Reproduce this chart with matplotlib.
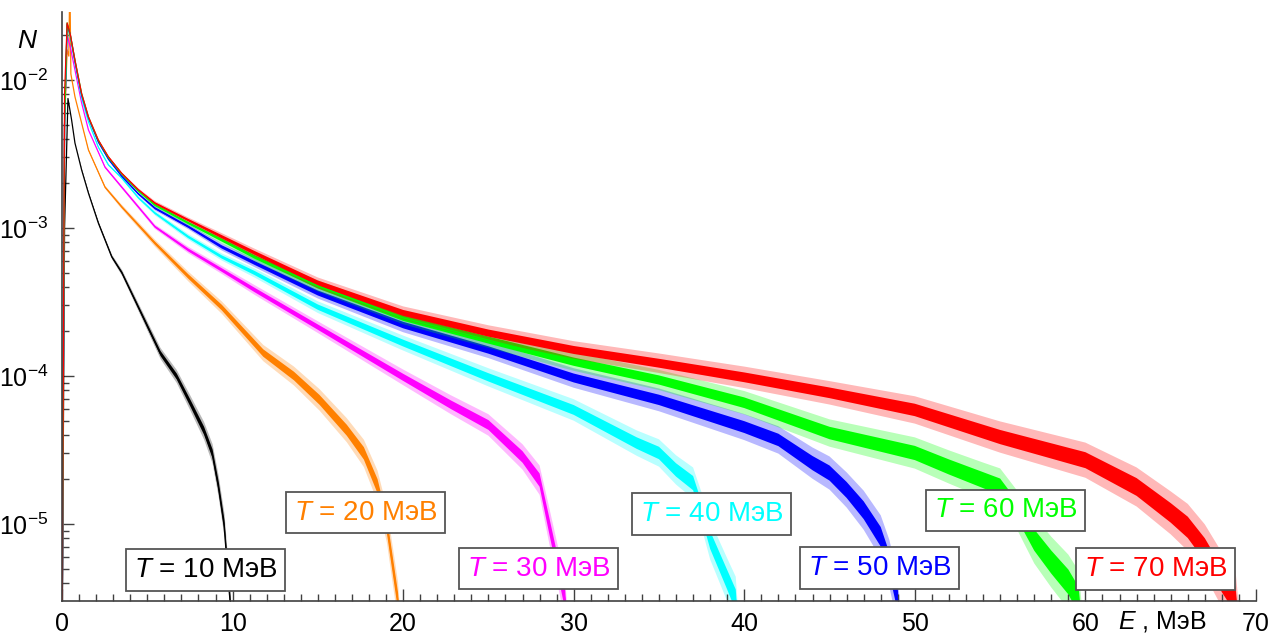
import numpy as np
import matplotlib
matplotlib.use('Agg')
from matplotlib import pyplot as plt
from matplotlib.ticker import LogLocator, MultipleLocator, NullFormatter, FuncFormatter

plt.rcParams['font.family'] = ['Liberation Sans', 'DejaVu Sans']
plt.rcParams['mathtext.fontset'] = 'custom'
plt.rcParams['mathtext.rm'] = 'Liberation Sans'
plt.rcParams['mathtext.it'] = 'Liberation Sans:italic'

# spectra: E (MeV), N, half-width of the noise band (decades)
E_10 = [0.0, 0.15, 0.35, 0.56, 0.76, 1.15, 1.55, 2.13, 2.91, 3.5, 4.48, 5.75, 6.7, 7.5, 8.3, 8.8, 9.16, 9.5, 9.85, 10.0]
N_10 = [1e-6, 1e-3, 7.5e-3, 5.4e-3, 3.75e-3, 2.47e-3, 1.72e-3, 1.08e-3, 6.4e-4, 5.0e-4, 2.9e-4, 1.43e-4, 1.0e-4,
        6.6e-5, 4.3e-5, 3.0e-5, 1.8e-5, 9.8e-6, 3.0e-6, 1e-6]
W_10 = [0, 0, 0, 0, 0, 0.002, 0.003, 0.005, 0.007, 0.009, 0.012, 0.017, 0.02, 0.023, 0.027, 0.03, 0.033, 0.036,
        0.04, 0.04]

E_20 = [0.0, 0.15, 0.3, 0.4, 0.46, 0.52, 0.76, 1.55, 2.52, 3.5, 5.45, 7.41, 9.37, 11.8, 13.6, 15.1, 16.7, 17.7, 18.5,
        19.05, 19.7, 20.0]
N_20 = [1e-6, 5e-3, 1.6e-2, 1.45e-2, 5e-2, 1.1e-2, 7.7e-3, 3.37e-3, 1.89e-3, 1.39e-3, 7.9e-4, 4.7e-4, 2.9e-4,
        1.43e-4, 1.0e-4, 6.9e-5, 4.3e-5, 3.0e-5, 1.8e-5, 9.8e-6, 3.0e-6, 1e-6]
W_20 = [0, 0, 0, 0, 0, 0, 0, 0.003, 0.005, 0.007, 0.011, 0.015, 0.019, 0.025, 0.029, 0.033, 0.037, 0.042, 0.048,
        0.054, 0.06, 0.06]

E_30 = [0.0, 0.15, 0.3, 0.5, 0.76, 1.15, 1.55, 2.52, 3.5, 5.45, 7.41, 9.37, 11.3, 15, 20, 22.8, 25, 27, 28, 28.5,
        29, 29.5, 29.8]
N_30 = [1e-6, 5e-3, 2.01e-2, 1.64e-2, 1.17e-2, 7.0e-3, 4.6e-3, 2.58e-3, 1.89e-3, 1.02e-3, 7.1e-4, 5.2e-4, 3.81e-4,
        2.14e-4, 9.8e-5, 6.4e-5, 4.67e-5, 2.84e-5, 1.98e-5, 1.06e-5, 5.7e-6, 3.06e-6, 1e-6]
W_30 = [0, 0, 0, 0, 0, 0, 0, 0.004, 0.005, 0.007, 0.01, 0.012, 0.015, 0.018, 0.024, 0.029, 0.033, 0.039, 0.045,
        0.054, 0.06, 0.066, 0.066]

E_40 = [0.0, 0.15, 0.3, 0.5, 0.76, 1.15, 1.55, 2.13, 2.72, 3.5, 4.48, 5.45, 7.41, 9.37, 11.3, 15, 20, 25, 30, 33.7,
        35, 36, 37, 37.5, 38, 39, 39.5, 39.8]
N_40 = [1e-6, 5e-3, 2.35e-2, 1.92e-2, 1.30e-2, 7.55e-3, 5.23e-3, 3.52e-3, 2.67e-3, 2.18e-3, 1.6e-3, 1.26e-3, 8.7e-4,
        6.37e-4, 4.96e-4, 2.92e-4, 1.67e-4, 9.8e-5, 5.9e-5, 3.52e-5, 3.02e-5, 2.32e-5, 1.89e-5, 1.24e-5, 7.8e-6,
        4.2e-6, 3.06e-6, 1e-6]
W_40 = [0, 0, 0, 0, 0, 0, 0, 0.003, 0.003, 0.004, 0.005, 0.007, 0.009, 0.011, 0.014, 0.018, 0.023, 0.028, 0.033,
        0.039, 0.042, 0.045, 0.048, 0.054, 0.06, 0.066, 0.072, 0.072]

E_50 = [0.0, 0.15, 0.3, 0.5, 0.76, 1.15, 1.55, 2.13, 2.72, 3.5, 4.48, 5.45, 7.41, 9.37, 11.3, 15, 20, 25, 30, 35,
        40, 42, 44, 45, 46, 47, 48, 48.5, 49, 49.3]
N_50 = [1e-6, 5e-3, 2.39e-2, 1.98e-2, 1.34e-2, 7.92e-3, 5.54e-3, 3.81e-3, 2.92e-3, 2.24e-3, 1.70e-3, 1.36e-3,
        1.02e-3, 7.45e-4, 5.8e-4, 3.64e-4, 2.21e-4, 1.5e-4, 9.7e-5, 6.9e-5, 4.52e-5, 3.7e-5, 2.58e-5, 2.21e-5,
        1.7e-5, 1.24e-5, 8.2e-6, 5.45e-6, 3.06e-6, 1e-6]
W_50 = [0, 0, 0, 0, 0, 0, 0, 0.003, 0.003, 0.004, 0.005, 0.007, 0.008, 0.011, 0.013, 0.017, 0.022, 0.025, 0.03,
        0.035, 0.04, 0.042, 0.048, 0.051, 0.054, 0.06, 0.066, 0.072, 0.078, 0.078]

E_60 = [0.0, 0.15, 0.3, 0.5, 0.76, 1.15, 1.55, 2.13, 2.72, 3.5, 4.48, 5.45, 7.41, 9.37, 11.3, 15, 20, 25, 30, 35,
        40, 45, 50, 52, 54, 55, 56, 57, 58, 59, 59.6, 60.0]
N_60 = [1e-6, 5e-3, 2.43e-2, 1.98e-2, 1.36e-2, 8.1e-3, 5.62e-3, 3.9e-3, 2.99e-3, 2.32e-3, 1.78e-3, 1.43e-3,
        1.08e-3, 8.3e-4, 6.37e-4, 4.06e-4, 2.47e-4, 1.75e-4, 1.25e-4, 9.4e-5, 6.6e-5, 4.12e-5, 3.02e-5, 2.43e-5,
        1.98e-5, 1.78e-5, 1.24e-5, 7.8e-6, 5.53e-6, 4.06e-6, 3.06e-6, 1e-6]
W_60 = [0, 0, 0, 0, 0, 0, 0, 0.003, 0.003, 0.004, 0.005, 0.007, 0.008, 0.011, 0.013, 0.017, 0.02, 0.024, 0.028,
        0.031, 0.036, 0.042, 0.048, 0.051, 0.054, 0.057, 0.06, 0.072, 0.078, 0.084, 0.09, 0.09]

E_70 = [0.0, 0.15, 0.3, 0.5, 0.76, 1.15, 1.55, 2.13, 2.72, 3.5, 4.48, 5.45, 7.41, 9.37, 11.3, 15, 20, 25, 30, 35,
        40, 45, 50, 55, 60, 63, 65, 66, 67, 68, 68.8, 69.2]
N_70 = [1e-6, 8e-3, 2.43e-2, 2.0e-2, 1.36e-2, 8.1e-3, 5.65e-3, 3.93e-3, 3.03e-3, 2.34e-3, 1.81e-3, 1.47e-3,
        1.13e-3, 8.73e-4, 6.78e-4, 4.25e-4, 2.67e-4, 1.95e-4, 1.5e-4, 1.22e-4, 9.8e-5, 7.7e-5, 5.9e-5, 3.87e-5,
        2.7e-5, 1.78e-5, 1.19e-5, 9.5e-6, 6.7e-6, 4.2e-6, 3.06e-6, 1e-6]
W_70 = [0, 0, 0, 0, 0, 0, 0, 0.003, 0.003, 0.004, 0.005, 0.007, 0.008, 0.011, 0.013, 0.017, 0.02, 0.024, 0.027,
        0.03, 0.033, 0.036, 0.042, 0.048, 0.054, 0.06, 0.066, 0.072, 0.078, 0.084, 0.09, 0.09]

series = [
    ('10', E_10, N_10, W_10, '#000000'),
    ('20', E_20, N_20, W_20, '#FF8000'),
    ('30', E_30, N_30, W_30, '#FF00FF'),
    ('40', E_40, N_40, W_40, '#00FFFF'),
    ('50', E_50, N_50, W_50, '#0000FF'),
    ('60', E_60, N_60, W_60, '#00FF00'),
    ('70', E_70, N_70, W_70, '#FF0000'),
]

# label box centres, axes fraction
label_pos = {'10': (0.120, 0.053), '20': (0.254, 0.150), '30': (0.399, 0.055), '40': (0.544, 0.148),
             '50': (0.685, 0.056), '60': (0.790, 0.154), '70': (0.916, 0.054)}

fig = plt.figure(figsize=(12.78, 6.39), dpi=100)
ax = fig.add_axes([62 / 1278, 1 - 601 / 639, 1194 / 1278, 589 / 639])

for name, e, n, w, c in series:
    e = np.array(e)
    n = np.array(n)
    w = np.array(w)
    ax.fill_between(e, n / 10 ** (2.2 * w), n * 10 ** (2.2 * w), color=c, alpha=0.28, lw=0)
    ax.fill_between(e, n / 10 ** w, n * 10 ** w, color=c, lw=0)
    ax.plot(e, n, color=c, lw=0.9)
    x, y = label_pos[name]
    ax.text(x, y, r'$\mathit{T}$ = ' + name + ' МэВ', transform=ax.transAxes, ha='center', va='center',
            fontsize=20, color=c, zorder=6,
            bbox=dict(boxstyle='square,pad=0.28', fc='white', ec='#555555', lw=1.3))

ax.set_yscale('log')
ax.set_xlim(0, 70)
ax.set_ylim(3.02e-6, 2.88e-2)
ax.spines['top'].set_visible(False)
ax.spines['right'].set_visible(False)
for s in ['left', 'bottom']:
    ax.spines[s].set_color('#404040')
    ax.spines[s].set_linewidth(1.2)

ax.xaxis.set_major_locator(MultipleLocator(10))
ax.xaxis.set_minor_locator(MultipleLocator(1))
ax.yaxis.set_major_locator(LogLocator(base=10, numticks=10))
ax.yaxis.set_minor_locator(LogLocator(base=10, subs=np.arange(2, 10), numticks=10))
ax.yaxis.set_minor_formatter(NullFormatter())
ax.yaxis.set_major_formatter(FuncFormatter(lambda v, p: r'$\mathregular{10^{%d}}$' % round(np.log10(v))))

ax.tick_params(which='major', direction='in', length=8.5, width=1, color='#404040', labelsize=18)
ax.tick_params(which='minor', direction='in', length=5, width=1, color='#404040')
ax.tick_params(axis='x', which='major', pad=8)
ax.tick_params(axis='y', which='major', pad=10)

fig.text(27 / 1278, 1 - 41 / 639, 'N', style='italic', fontsize=19, ha='center', va='center')
fig.text(1118 / 1278, 1 - 629 / 639, r'$\mathit{E}$ , МэВ', fontsize=18, ha='left', va='baseline')

fig.savefig('out.png', dpi=100)
